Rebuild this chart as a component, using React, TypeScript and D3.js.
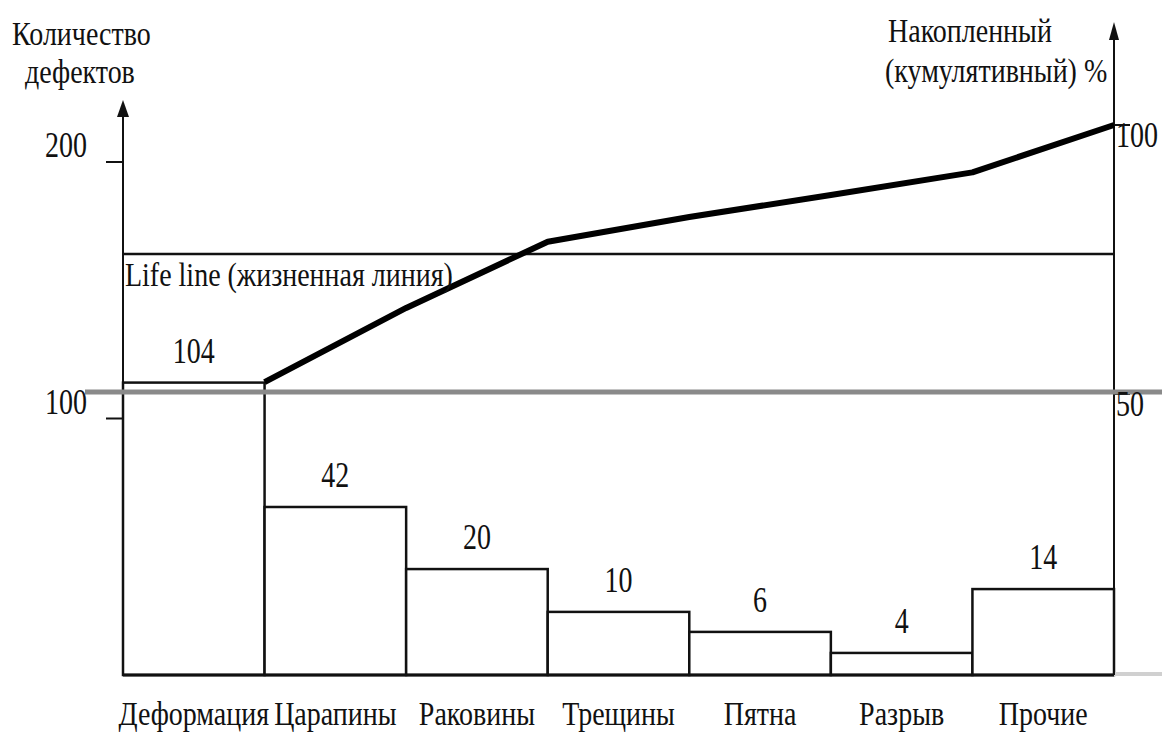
import React, { useRef, useEffect } from "react";
import * as d3 from "d3";

// categories of defects (x axis)
const categories = ["Деформация", "Царапины", "Раковины", "Трещины", "Пятна", "Разрыв", "Прочие"];
// numbers printed over the bars
const defectCounts = [104, 42, 20, 10, 6, 4, 14];
// bar heights as they are drawn, read against the left axis (the sketch is not to scale)
const barLevels = [114, 65.5, 41.3, 24.6, 16.8, 8.6, 33.5];
// cumulative % at each bar's right edge
const cumulativePct = [52.2, 66, 78.3, 82.9, 87, 91.2, 100];
const leftTicks = [100, 200];
const rightTicks = [50, 100];
const lifeLinePct = 76;

const FONT = "'Liberation Serif', 'Times New Roman', serif";

const App = () => {
  const svgRef = useRef<SVGSVGElement>(null);

  useEffect(() => {
    const width = 1162;
    const height = 733;

    const x = d3.scaleBand<string>().domain(categories).range([123, 1114]).padding(0);
    const y = d3.scaleLinear().domain([0, 200]).range([675, 162]);
    const yPct = d3.scaleLinear().domain([50, 100]).range([394, 125]);

    const x0 = x.range()[0];
    const x1 = x.range()[1];
    const base = y(0);

    const svg = d3.select(svgRef.current);
    svg.selectAll("*").remove();
    svg.attr("width", width).attr("height", height).attr("viewBox", [0, 0, width, height]);

    svg.append("rect").attr("width", width).attr("height", height).attr("fill", "white");

    // text helper: slightly tall serif, like the scanned original
    const label = (str: string, tx: number, ty: number, anchor = "start", size = 27, sy = 1.2) =>
      svg
        .append("text")
        .attr("transform", `translate(${tx},${ty}) scale(1,${sy})`)
        .attr("text-anchor", anchor)
        .attr("font-family", FONT)
        .attr("font-size", size)
        .attr("fill", "#111")
        .text(str);

    // bars
    svg
      .append("g")
      .selectAll("rect")
      .data(categories)
      .join("rect")
      .attr("x", (d) => x(d)!)
      .attr("y", (d, i) => y(barLevels[i]))
      .attr("width", x.bandwidth())
      .attr("height", (d, i) => base - y(barLevels[i]))
      .attr("fill", "white")
      .attr("stroke", "#111")
      .attr("stroke-width", 2.5);

    // baseline
    svg.append("line").attr("x1", x0).attr("x2", x1).attr("y1", base).attr("y2", base)
      .attr("stroke", "#111").attr("stroke-width", 3);
    svg.append("line").attr("x1", x1).attr("x2", width).attr("y1", base - 1).attr("y2", base - 1)
      .attr("stroke", "#d0d0d0").attr("stroke-width", 4);

    // left axis with arrow
    const leftTop = y(200) - 62;
    svg.append("line").attr("x1", x0).attr("x2", x0).attr("y1", leftTop + 10).attr("y2", base)
      .attr("stroke", "#111").attr("stroke-width", 2);
    svg.append("path")
      .attr("d", `M${x0},${leftTop} L${x0 - 6},${leftTop + 17} L${x0 + 6},${leftTop + 17} Z`)
      .attr("fill", "#111");
    leftTicks.forEach((t) => {
      svg.append("line").attr("x1", x0 - 17).attr("x2", x0).attr("y1", y(t)).attr("y2", y(t))
        .attr("stroke", "#111").attr("stroke-width", 2);
    });

    // right axis with arrow
    const rightTop = yPct(100) - 103;
    svg.append("line").attr("x1", x1).attr("x2", x1).attr("y1", rightTop + 10).attr("y2", base)
      .attr("stroke", "#111").attr("stroke-width", 2);
    svg.append("path")
      .attr("d", `M${x1},${rightTop} L${x1 - 5},${rightTop + 18} L${x1 + 5},${rightTop + 18} Z`)
      .attr("fill", "#111");
    rightTicks.forEach((t) => {
      svg.append("line").attr("x1", x1).attr("x2", x1 + 16).attr("y1", yPct(t)).attr("y2", yPct(t))
        .attr("stroke", "#111").attr("stroke-width", 2);
    });

    // life line
    svg.append("line").attr("x1", x0).attr("x2", x1)
      .attr("y1", yPct(lifeLinePct)).attr("y2", yPct(lifeLinePct))
      .attr("stroke", "#111").attr("stroke-width", 2.5);

    // grey 50 % line
    svg.append("line").attr("x1", 85).attr("x2", width)
      .attr("y1", yPct(50) - 2).attr("y2", yPct(50) - 2)
      .attr("stroke", "#8a8a8a").attr("stroke-width", 5);

    // cumulative line, starting at the top of the first bar
    const pts: [number, number][] = categories.map((c, i) => [x(c)! + x.bandwidth(), yPct(cumulativePct[i])]);
    svg.append("path")
      .attr("d", d3.line()(pts))
      .attr("fill", "none")
      .attr("stroke", "#000")
      .attr("stroke-width", 6)
      .attr("stroke-linejoin", "round");

    // titles
    label("Количество", 12, 45, "start", 28);
    label("дефектов", 25, 83, "start", 28);
    label("Накопленный", 888, 42, "start", 28);
    label("(кумулятивный) %", 885, 82, "start", 28);
    label("Life line (жизненная линия)", x0 + 2, yPct(lifeLinePct) + 32, "start", 28);

    // tick labels
    leftTicks.forEach((t) => label(String(t), 87, y(t) - 5, "end", 28, 1.3));
    rightTicks.forEach((t) => label(String(t), x1 + 2, yPct(t) + 22, "start", 28, 1.3));

    // value labels
    categories.forEach((c, i) =>
      label(String(defectCounts[i]), x(c)! + x.bandwidth() / 2, y(barLevels[i]) - 20, "middle", 28, 1.3)
    );

    // category labels
    categories.forEach((c) => label(c, x(c)! + x.bandwidth() / 2, 725, "middle", 28));
  }, []);

  return (
    <svg
      ref={svgRef}
      style={{ position: "absolute", left: 0, top: 0, display: "block" }}
    ></svg>
  );
};

export default App;
